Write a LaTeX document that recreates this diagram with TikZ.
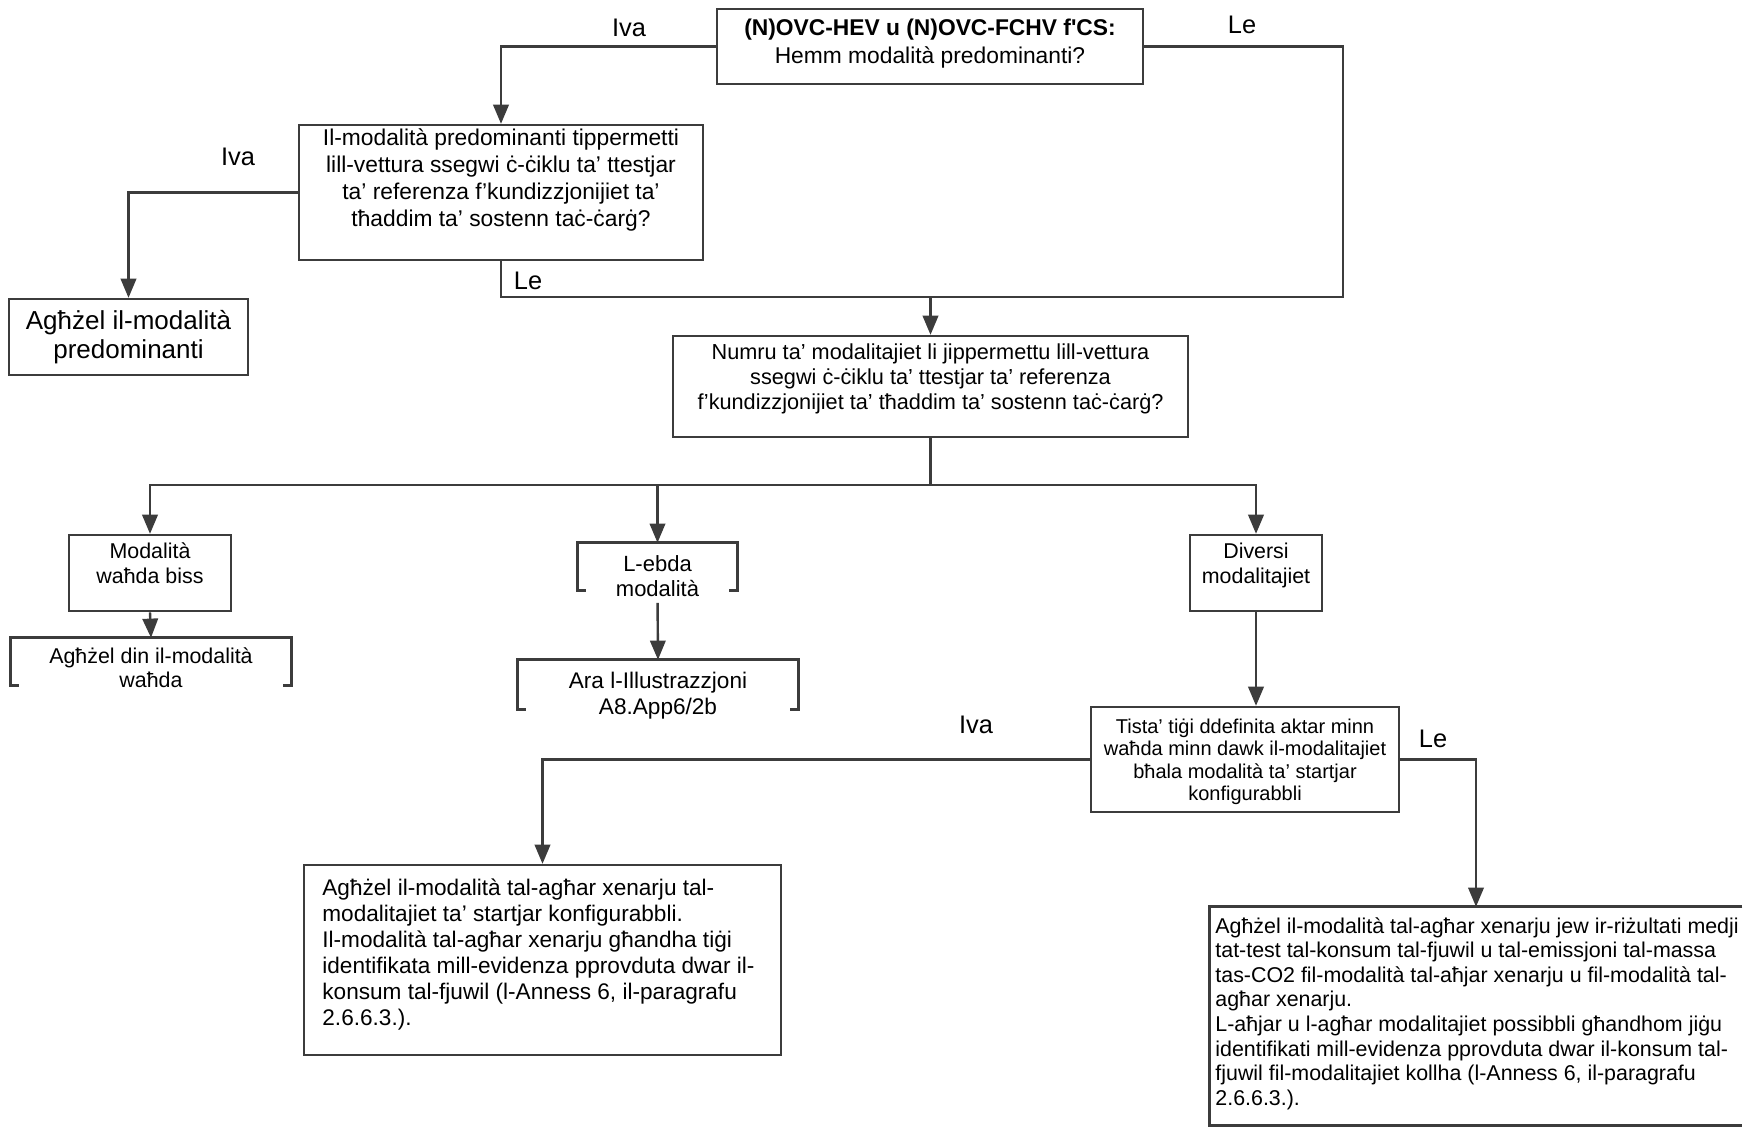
\documentclass[tikz,border=0pt]{standalone}
\usepackage{fontspec}
\setmainfont{Liberation Sans}
\usetikzlibrary{arrows}
\definecolor{lncol}{RGB}{60,60,60}
% box open at the bottom (drawn as two brackets)
\newcommand{\bracketbox}[1]{%
  \draw[box] ([xshift=4pt]#1.south west) -- (#1.south west) -- (#1.north west)
    -- (#1.north east) -- (#1.south east) -- ([xshift=-4pt]#1.south east);}

\begin{document}
\begin{tikzpicture}[x=0.5pt,y=-0.5pt,>=triangle 45,
  box/.style={draw=lncol,line width=1.3pt,inner sep=0pt},
  frame/.style={inner sep=0pt},
  txt/.style={align=center,inner sep=0pt},
  ln/.style={draw=lncol,line width=1.2pt},
  arr/.style={ln,->},
  yesno/.style={font=\fontsize{12.7}{14}\selectfont,inner sep=0pt}]
\useasboundingbox (0,0) rectangle (1755,1136);

% questions
\node[box,minimum width=213pt,minimum height=37.5pt] (q0) at (930,46.5) {};
\node[txt,font=\fontsize{11.4}{14}\selectfont] (t0) at (930,44)
  {\textbf{(N)OVC-HEV u (N)OVC-FCHV f\textquotesingle CS:}\\Hemm modalità predominanti?};
\node[box,minimum width=202pt,minimum height=67.5pt] (q1) at (501,192.5) {};
\node[txt,font=\fontsize{11.4}{13.5}\selectfont] (t1) at (501,180)
  {Il-modalità predominanti tippermetti\\lill-vettura ssegwi ċ-ċiklu ta’ ttestjar\\ta’ referenza f’kundizzjonijiet ta’\\tħaddim ta’ sostenn taċ-ċarġ?};
\node[box,minimum width=119.5pt,minimum height=38pt] (q2) at (128.5,337) {};
\node[txt,font=\fontsize{13}{14.5}\selectfont] (t2) at (128.5,337)
  {Agħżel il-modalità\\predominanti};
\node[box,minimum width=257.5pt,minimum height=50.5pt] (q3) at (930.5,386.5) {};
\node[txt,font=\fontsize{10.85}{12.5}\selectfont] (t3) at (930.5,379)
  {Numru ta’ modalitajiet li jippermettu lill-vettura\\ssegwi ċ-ċiklu ta’ ttestjar ta’ referenza\\f’kundizzjonijiet ta’ tħaddim ta’ sostenn taċ-ċarġ?};

% number of modes
\node[box,minimum width=81pt,minimum height=38pt] (q4) at (150,573) {};
\node[txt,font=\fontsize{10.7}{12.5}\selectfont] (t4) at (150,563)
  {Modalità\\waħda biss};
\node[frame,minimum width=140pt,minimum height=23.5pt] (q5) at (151,661.5) {};
\node[txt,font=\fontsize{10.7}{12}\selectfont] (t5) at (151,668)
  {Agħżel din il-modalità\\waħda};
\node[frame,minimum width=79.5pt,minimum height=23.5pt] (q6) at (657.5,566.5) {};
\node[txt,font=\fontsize{11}{12.5}\selectfont] (t6) at (657.5,576)
  {L-ebda\\modalità};
\node[frame,minimum width=140pt,minimum height=24.5pt] (q7) at (658,684.5) {};
\node[txt,font=\fontsize{11.3}{13}\selectfont] (t7) at (658,696)
  {Ara l-Illustrazzjoni\\A8.App6/2b};
\node[box,minimum width=66pt,minimum height=38pt] (q8) at (1256,573) {};
\node[txt,font=\fontsize{10.7}{12.5}\selectfont] (t8) at (1256,565)
  {Diversi\\modalitajiet};
\node[box,minimum width=154pt,minimum height=52.5pt] (q9) at (1245,759.5) {};
\node[txt,font=\fontsize{10}{11.2}\selectfont] (t9) at (1245,762)
  {Tista’ tiġi ddefinita aktar minn\\waħda minn dawk il-modalitajiet\\bħala modalità ta’ startjar\\konfigurabbli};

% results
\node[box,minimum width=238.5pt,minimum height=95pt] (q10) at (542.5,960) {};
\node[txt,align=left,anchor=north west,font=\fontsize{11.3}{13}\selectfont] (t10) at (322,878)
  {Agħżel il-modalità tal-agħar xenarju tal-\\modalitajiet ta’ startjar konfigurabbli.\\Il-modalità tal-agħar xenarju għandha tiġi\\identifikata mill-evidenza pprovduta dwar il-\\konsum tal-fjuwil (l-Anness 6, il-paragrafu\\2.6.6.3.).};
\node[frame,minimum width=266pt,minimum height=109pt] (q11) at (1476,1016) {};
\node[txt,align=left,anchor=north west,font=\fontsize{10.7}{12.3}\selectfont] (t11) at (1215,917)
  {Agħżel il-modalità tal-agħar xenarju jew ir-riżultati medji\\tat-test tal-konsum tal-fjuwil u tal-emissjoni tal-massa\\tas-CO2 fil-modalità tal-aħjar xenarju u fil-modalità tal-\\agħar xenarju.\\L-aħjar u l-agħar modalitajiet possibbli għandhom jiġu\\identifikati mill-evidenza pprovduta dwar il-konsum tal-\\fjuwil fil-modalitajiet kollha (l-Anness 6, il-paragrafu\\2.6.6.3.).};

\bracketbox{q5}
\bracketbox{q6}
\bracketbox{q7}
\draw[box] (q11.north east) -- (q11.north west) -- (q11.south west) -- (q11.south east);

% answers
\node[yesno] (l0) at (629,28) {Iva};
\node[yesno] (l1) at (1242,25) {Le};
\node[yesno] (l2) at (238,157) {Iva};
\node[yesno] (l3) at (528,281) {Le};
\node[yesno] (l4) at (976,725) {Iva};
\node[yesno] (l5) at (1433,739) {Le};

% connectors
\coordinate (rc) at (1343,297);
\coordinate (j1) at (930.5,297);
\coordinate (j2) at (930.5,485);
\draw[arr] (q0.west) -| (q1.north);
\draw[ln] (q0.east) -| (rc) -- (j1);
\draw[ln] (q1.south) |- (j1);
\draw[arr] (j1) -- (q3.north);
\draw[arr] (q1.west) -| (q2.north);
\draw[ln] (q3.south) -- (j2);
\draw[arr] (j2) -| (q4.north);
\draw[arr] (j2) -| (q6.north);
\draw[arr] (j2) -| (q8.north);
\draw[arr] (q4.south) -- (q5.north);
\draw[arr,shorten <=3pt] (t6.south) -- (q7.north);
\draw[arr] (q8.south) -- (q8.south |- q9.north);
\draw[arr] (q9.west) -| (q10.north);
\draw[arr] (q9.east) -| (q11.north);
\end{tikzpicture}
\end{document}
